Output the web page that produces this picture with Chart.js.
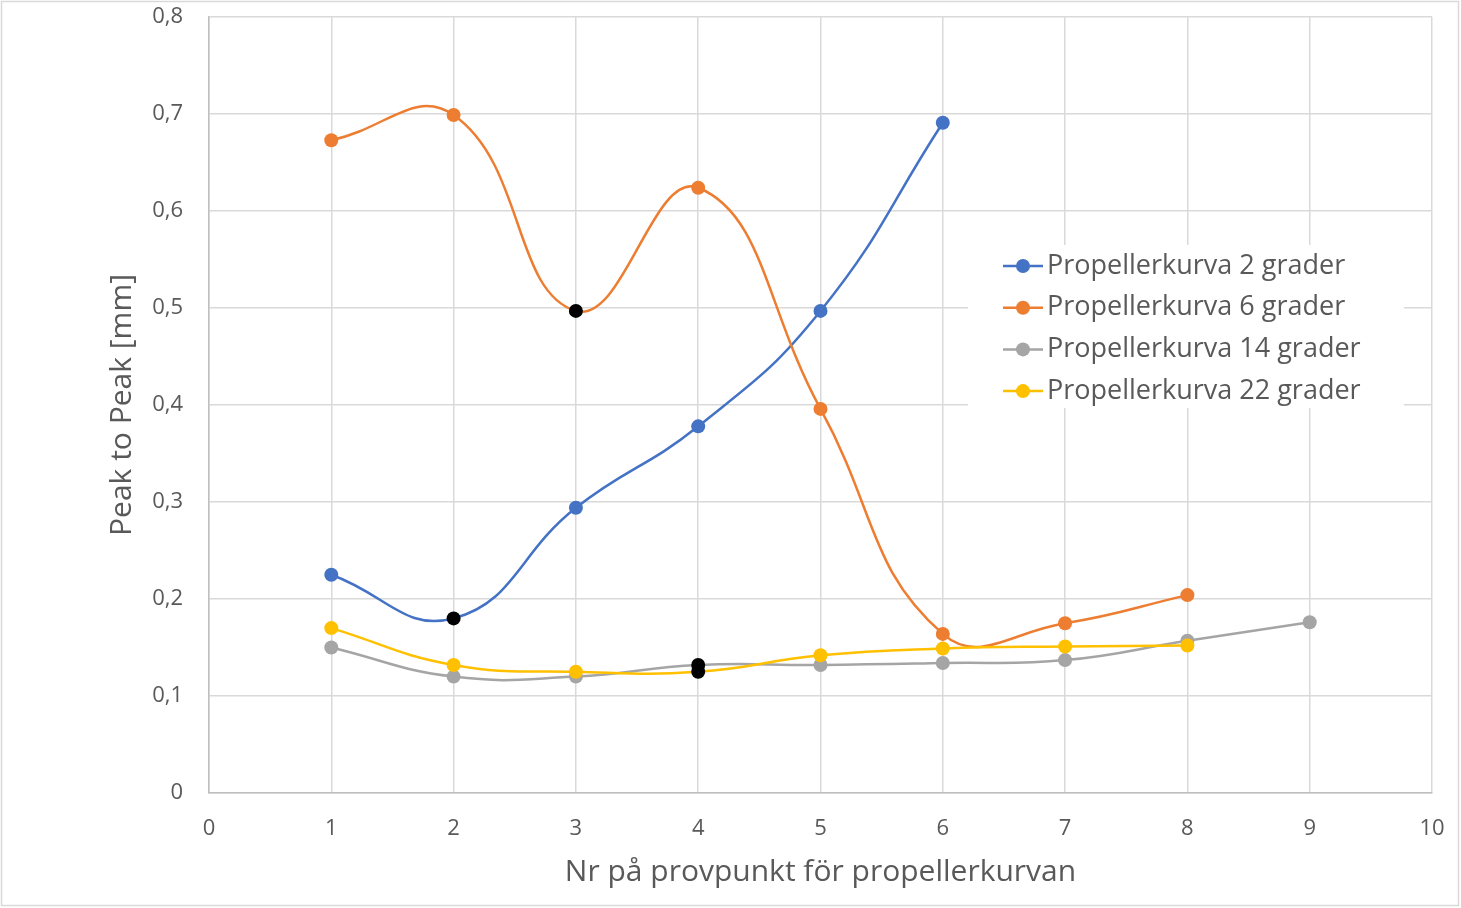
<!DOCTYPE html>
<html>
<head>
<meta charset="utf-8">
<script src="https://cdn.jsdelivr.net/npm/chart.js@4.4.1/dist/chart.umd.min.js"></script>
<style>
  html, body { margin: 0; padding: 0; background: #fff; }
  #wrap { width: 1461px; height: 908px; position: relative; }
</style>
</head>
<body>
<div id="wrap"><canvas id="c" width="1461" height="908"></canvas></div>
<script>
// Test point numbers along the propeller curve
const pointNr = [1, 2, 3, 4, 5, 6, 7, 8, 9];

// Peak to peak amplitude [mm] per test point
const grader2  = [0.225, 0.180, 0.294, 0.378, 0.497, 0.691];
const grader6  = [0.673, 0.699, 0.497, 0.624, 0.396, 0.164, 0.175, 0.204];
const grader14 = [0.150, 0.120, 0.120, 0.132, 0.132, 0.134, 0.137, 0.157, 0.176];
const grader22 = [0.170, 0.132, 0.125, 0.125, 0.142, 0.149, 0.151, 0.152];

// Test points marked with a black dot in each series
const marked2  = [2];
const marked6  = [3];
const marked14 = [4];
const marked22 = [4];

const seriesNames = [
  'Propellerkurva 2 grader',
  'Propellerkurva 6 grader',
  'Propellerkurva 14 grader',
  'Propellerkurva 22 grader'
];

// y axis ticks 0 .. 0,8 and x axis ticks 0 .. 10
const yTicks = [0, 0.1, 0.2, 0.3, 0.4, 0.5, 0.6, 0.7, 0.8];
const xTicks = [0, 1, 2, 3, 4, 5, 6, 7, 8, 9, 10];

const FONT = '"Open Sans", "Noto Sans", sans-serif';
const TEXT = '#595959';
const DOT = 7;

function makeSeries(name, values, marked, color, order) {
  const data = values.map((v, i) => ({ x: pointNr[i], y: v }));
  const dotColors = values.map((v, i) => marked.includes(pointNr[i]) ? '#000000' : color);
  return {
    label: name,
    data: data,
    borderColor: color,
    backgroundColor: color,
    pointBackgroundColor: dotColors,
    pointBorderColor: dotColors,
    pointRadius: DOT,
    pointHoverRadius: DOT,
    pointBorderWidth: 0,
    borderWidth: 2.5,
    tension: 0.45,
    order: order
  };
}

const datasets = [
  makeSeries(seriesNames[0], grader2,  marked2,  '#4472C4', 4),
  makeSeries(seriesNames[1], grader6,  marked6,  '#ED7D31', 3),
  makeSeries(seriesNames[2], grader14, marked14, '#A5A5A5', 2),
  makeSeries(seriesNames[3], grader22, marked22, '#FFC000', 1)
];

// Legend drawn inside the plot area, on a white box, with line + dot symbols
const innerLegend = {
  id: 'innerLegend',
  afterDatasetsDraw(chart) {
    const ctx = chart.ctx;
    const box = { x: 968, y: 245, w: 436, h: 163 };
    ctx.save();
    ctx.fillStyle = '#ffffff';
    ctx.fillRect(box.x, box.y, box.w, box.h);
    ctx.font = '27px ' + FONT;
    ctx.textBaseline = 'middle';
    ctx.textAlign = 'left';
    chart.data.datasets.forEach((ds, i) => {
      const cy = 266 + i * 41.7;
      ctx.strokeStyle = ds.borderColor;
      ctx.lineWidth = 2.5;
      ctx.beginPath();
      ctx.moveTo(1003, cy);
      ctx.lineTo(1043, cy);
      ctx.stroke();
      ctx.fillStyle = ds.borderColor;
      ctx.beginPath();
      ctx.arc(1023, cy, DOT, 0, Math.PI * 2);
      ctx.fill();
      ctx.fillStyle = TEXT;
      ctx.fillText(ds.label, 1047, cy);
    });
    ctx.restore();
  }
};

// Thin frame around the whole chart
const outerFrame = {
  id: 'outerFrame',
  afterDraw(chart) {
    const ctx = chart.ctx;
    ctx.save();
    ctx.strokeStyle = '#d9d9d9';
    ctx.lineWidth = 1.5;
    ctx.strokeRect(1.5, 1.5, chart.width - 4, chart.height - 4);
    ctx.restore();
  }
};

new Chart(document.getElementById('c'), {
  type: 'line',
  data: { datasets: datasets },
  plugins: [innerLegend, outerFrame],
  options: {
    responsive: false,
    animation: false,
    events: [],
    layout: { padding: { left: 0, right: 29, top: 17, bottom: 0 } },
    plugins: {
      legend: { display: false },
      tooltip: { enabled: false }
    },
    scales: {
      x: {
        type: 'linear',
        min: 0,
        max: 10,
        afterBuildTicks(scale) { scale.ticks = xTicks.map(v => ({ value: v })); },
        afterFit(scale) {
          scale.height = 908 - 793;
          scale.paddingLeft = 0;
          scale.paddingRight = 0;
        },
        grid: { color: '#d9d9d9', lineWidth: 1.5, drawTicks: false },
        border: { color: '#bfbfbf', width: 1.5 },
        ticks: {
          color: TEXT,
          font: { family: FONT, size: 22 },
          padding: 23,
          callback: v => String(v)
        },
        title: {
          display: true,
          text: 'Nr på provpunkt för propellerkurvan',
          color: TEXT,
          font: { family: FONT, size: 30 },
          padding: { top: 0, bottom: 18 }
        }
      },
      y: {
        type: 'linear',
        min: 0,
        max: 0.8,
        afterBuildTicks(scale) { scale.ticks = yTicks.map(v => ({ value: v })); },
        afterFit(scale) {
          scale.width = 209;
          scale.paddingTop = 0;
          scale.paddingBottom = 0;
        },
        grid: { color: '#d9d9d9', lineWidth: 1.5, drawTicks: false },
        border: { color: '#bfbfbf', width: 1.5 },
        ticks: {
          color: TEXT,
          font: { family: FONT, size: 22 },
          padding: 26,
          callback: v => (v === 0 ? '0' : v.toFixed(1).replace('.', ','))
        },
        title: {
          display: true,
          text: 'Peak to Peak [mm]',
          color: TEXT,
          font: { family: FONT, size: 30 },
          padding: { top: 104, bottom: 0 }
        }
      }
    }
  }
});
</script>
</body>
</html>
